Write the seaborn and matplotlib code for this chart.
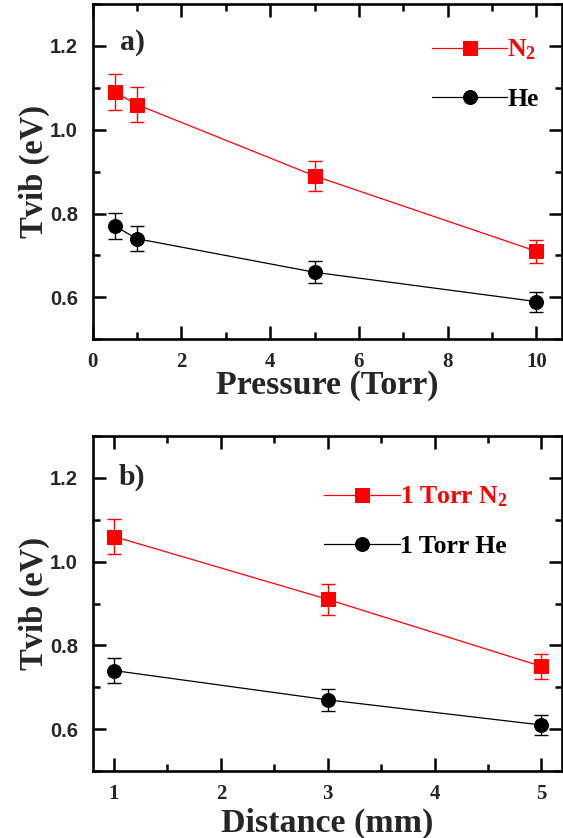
import numpy as np
import pandas as pd
import matplotlib
matplotlib.use('Agg')
import matplotlib.pyplot as plt
import seaborn as sns
from matplotlib.ticker import MultipleLocator

# ---- data ----
pressure = [0.5, 1, 5, 10]
n2_pressure = [1.09, 1.06, 0.89, 0.71]
n2_pressure_err = [0.044, 0.042, 0.036, 0.028]
he_pressure = [0.77, 0.74, 0.66, 0.59]
he_pressure_err = [0.031, 0.030, 0.026, 0.024]

distance = [1, 3, 5]
n2_distance = [1.06, 0.91, 0.75]
n2_distance_err = [0.042, 0.037, 0.030]
he_distance = [0.74, 0.67, 0.61]
he_distance_err = [0.030, 0.027, 0.024]

y_ticks = [0.6, 0.8, 1.0, 1.2]
y_tick_labels = ['0.6', '0.8', '1.0', '1.2']
x_ticks_a = [0, 2, 4, 6, 8, 10]
x_tick_labels_a = ['0', '2', '4', '6', '8', '10']
x_ticks_b = [1, 2, 3, 4, 5]
x_tick_labels_b = ['1', '2', '3', '4', '5']

labels_a = ['N$_2$', 'He']
labels_b = ['1 Torr N$_2$', '1 Torr He']

# ---- style ----
sns.set_style('ticks')
plt.rcParams['font.family'] = ['Liberation Serif', 'DejaVu Serif']
plt.rcParams['font.weight'] = 'bold'
plt.rcParams['mathtext.fontset'] = 'custom'
plt.rcParams['mathtext.rm'] = 'Liberation Serif:bold'
plt.rcParams['mathtext.it'] = 'Liberation Serif:bold'
plt.rcParams['mathtext.bf'] = 'Liberation Serif:bold'
plt.rcParams['mathtext.default'] = 'rm'

RED = '#FF0000'
BLACK = '#000000'

fig = plt.figure(figsize=(5.63, 8.38), dpi=100, facecolor='white')
ax_a = fig.add_axes([0.1645, 0.5951, 0.9977 - 0.1645, 0.9952 - 0.5951])
ax_b = fig.add_axes([0.1645, 0.0799, 0.9977 - 0.1645, 0.4797 - 0.0799])


def draw(ax, x, series, errs, colors, markers, labels):
    for y, e, c, m, lab in zip(series, errs, colors, markers, labels):
        df = pd.DataFrame({'x': x, 'y': y})
        sns.lineplot(data=df, x='x', y='y', ax=ax, color=c, marker=m,
                     markersize=10, markeredgecolor=c, markerfacecolor=c,
                     linewidth=0.9, label=lab, sort=False, zorder=3)
        ax.errorbar(x, y, yerr=e, fmt='none', ecolor=c, elinewidth=1.0,
                    capsize=4.8, capthick=1.0, zorder=2)


def style(ax, xticks, xlabels, xlim, xminor, xlabel, xlabelpad):
    ax.set_ylim(0.5, 1.3)
    ax.set_xlim(*xlim)
    ax.set_xticks(xticks, labels=xlabels, fontfamily='Liberation Serif',
                  fontweight='bold', fontsize=15)
    ax.set_yticks(y_ticks, labels=y_tick_labels, fontfamily='Liberation Sans',
                  fontweight='bold', fontsize=14.5)
    ax.xaxis.set_minor_locator(MultipleLocator(xminor))
    ax.yaxis.set_minor_locator(MultipleLocator(0.1))
    ax.tick_params(which='both', direction='in', top=True, right=True,
                   width=1.8, color='black')
    ax.tick_params(which='major', length=9.2)
    ax.tick_params(which='minor', length=4.8)
    ax.tick_params(axis='x', which='major', pad=9.0)
    ax.tick_params(axis='y', which='major', pad=10.5)
    for s in ax.spines.values():
        s.set_linewidth(1.9)
        s.set_color('black')
    ax.set_xlabel(xlabel, fontsize=24.5, fontweight='bold', labelpad=xlabelpad)
    ax.set_ylabel('Tvib (eV)', fontsize=23.5, fontweight='bold', labelpad=0)


draw(ax_a, pressure, [n2_pressure, he_pressure], [n2_pressure_err, he_pressure_err],
     [RED, BLACK], ['s', 'o'], labels_a)
draw(ax_b, distance, [n2_distance, he_distance], [n2_distance_err, he_distance_err],
     [RED, BLACK], ['s', 'o'], labels_b)

style(ax_a, x_ticks_a, x_tick_labels_a, (0, 10.57), 1, 'Pressure (Torr)', -1)
style(ax_b, x_ticks_b, x_tick_labels_b, (0.8, 5.19), 0.5, 'Distance (mm)', 3)

ax_a.text(0.058, 0.863, 'a)', transform=ax_a.transAxes, fontsize=21.5,
          fontweight='bold', va='baseline', ha='left')
ax_b.text(0.055, 0.854, 'b)', transform=ax_b.transAxes, fontsize=21.5,
          fontweight='bold', va='baseline', ha='left')

leg_kw = dict(frameon=False, handlelength=2.95, handletextpad=0.0,
              labelspacing=1.0, borderpad=0, borderaxespad=0, numpoints=1,
              labelcolor='linecolor', loc='upper left',
              prop={'family': 'Liberation Serif', 'weight': 'bold', 'size': 18.5})
ax_a.legend(bbox_to_anchor=(0.7228, 0.90), **leg_kw)
ax_b.legend(bbox_to_anchor=(0.493, 0.855), **leg_kw)

fig.savefig('out.png', dpi=100, facecolor='white')
